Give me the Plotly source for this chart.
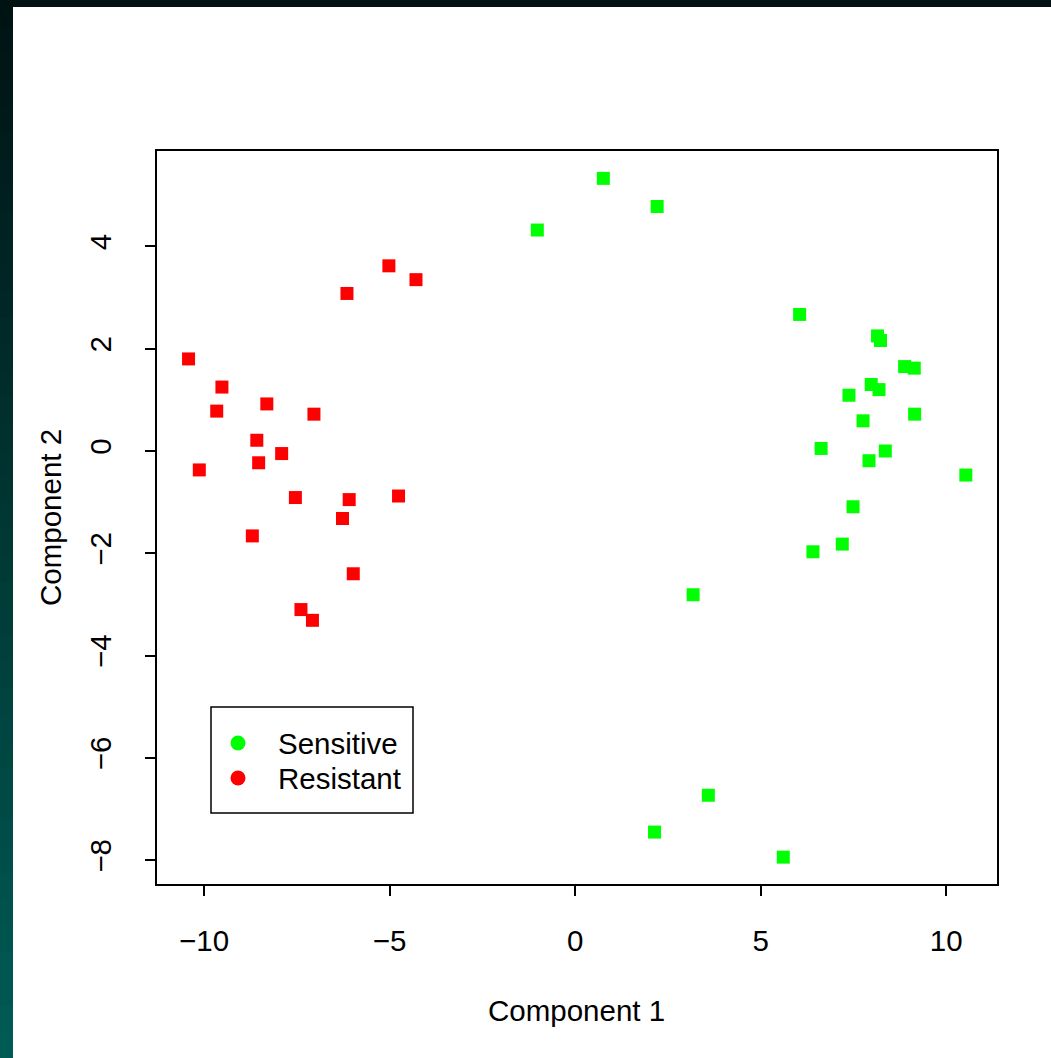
import plotly.graph_objects as go

# Data
resistant_x = [-5.02, -4.29, -6.15, -10.42, -9.52, -9.66, -8.31, -7.04, -8.58, -7.91,
               -8.53, -10.13, -7.54, -6.09, -4.76, -6.27, -8.70, -5.98, -7.39, -7.08]
resistant_y = [3.62, 3.35, 3.08, 1.80, 1.25, 0.78, 0.92, 0.72, 0.21, -0.05,
               -0.23, -0.37, -0.91, -0.95, -0.88, -1.32, -1.66, -2.40, -3.10, -3.31]
sensitive_x = [0.76, 2.21, -1.02, 6.05, 8.15, 8.23, 8.88, 9.14, 7.98, 8.19, 7.38, 9.15,
               7.76, 6.63, 8.36, 7.92, 10.53, 7.49, 7.20, 6.41, 3.18, 3.59, 2.14, 5.61]
sensitive_y = [5.33, 4.78, 4.32, 2.67, 2.25, 2.16, 1.65, 1.62, 1.30, 1.20, 1.09, 0.72,
               0.59, 0.05, 0.00, -0.19, -0.47, -1.09, -1.82, -1.97, -2.81, -6.73, -7.45, -7.94]
x_ticks = [-10, -5, 0, 5, 10]
y_ticks = [-8, -6, -4, -2, 0, 2, 4]
legend_labels = ["Sensitive", "Resistant"]

W, H = 1051, 1058
ML, MR, MT, MB = 157, 54, 151, 174
PW, PH = W - ML - MR, H - MT - MB
FONT = "Liberation Sans, Arial, Helvetica, sans-serif"
FS = 29.5

def px(xp):
    return (xp - ML) / PW

def py(yp):
    return (H - MB - yp) / PH

fig = go.Figure()
fig.add_trace(go.Scatter(x=sensitive_x, y=sensitive_y, mode="markers", name="Sensitive",
                         marker=dict(symbol="square", size=13, color="#00ff00"), showlegend=False))
fig.add_trace(go.Scatter(x=resistant_x, y=resistant_y, mode="markers", name="Resistant",
                         marker=dict(symbol="square", size=13, color="#ff0000"), showlegend=False))

shapes = []
# dark frame: left strip gradient and top strip
nb = 40
top = (0, 18, 18)
bot = (0, 92, 86)
for i in range(nb):
    t = (i + 0.5) / nb
    c = tuple(int(round(top[k] + (bot[k] - top[k]) * t)) for k in range(3))
    y0p = i * H / nb
    y1p = (i + 1) * H / nb + 1
    shapes.append(dict(type="rect", xref="paper", yref="paper", x0=px(0), x1=px(13),
                       y0=py(y1p), y1=py(y0p), fillcolor=f"rgb{c}", line=dict(width=0), layer="below"))
shapes.append(dict(type="rect", xref="paper", yref="paper", x0=px(0), x1=px(W),
                   y0=py(7), y1=py(0), fillcolor="rgb(0,18,18)", line=dict(width=0), layer="below"))

# legend box
shapes.append(dict(type="rect", xref="paper", yref="paper", x0=px(211), x1=px(413),
                   y0=py(813), y1=py(707), line=dict(color="black", width=1.5), fillcolor="white"))
legend_colors = ["#00ff00", "#ff0000"]
legend_ys = [743, 778]
annotations = []
for lab, col, ly in zip(legend_labels, legend_colors, legend_ys):
    shapes.append(dict(type="circle", xref="paper", yref="paper", xsizemode="pixel", ysizemode="pixel",
                       xanchor=px(238), yanchor=py(ly), x0=-7.5, x1=7.5, y0=-7.5, y1=7.5,
                       fillcolor=col, line=dict(width=0)))
    annotations.append(dict(text=lab, xref="paper", yref="paper", x=px(276), y=py(ly),
                            xanchor="left", yanchor="middle", showarrow=False,
                            font=dict(family=FONT, size=FS, color="black")))

annotations.append(dict(text="Component 1", xref="paper", yref="paper", x=px(576), y=py(1010),
                        xanchor="center", yanchor="middle", showarrow=False,
                        font=dict(family=FONT, size=FS, color="black")))
annotations.append(dict(text="Component 2", xref="paper", yref="paper", x=px(50), y=py(518),
                        xanchor="center", yanchor="middle", showarrow=False, textangle=-90,
                        font=dict(family=FONT, size=FS, color="black")))

axis_common = dict(showgrid=False, zeroline=False, showline=True, mirror=True,
                   linecolor="black", linewidth=1.5, ticks="outside", ticklen=10,
                   tickwidth=1.5, tickcolor="black",
                   tickfont=dict(family=FONT, size=FS, color="black"))

fig.update_layout(
    width=W, height=H,
    margin=dict(l=ML, r=MR, t=MT, b=MB, autoexpand=False),
    paper_bgcolor="white", plot_bgcolor="white",
    xaxis=dict(range=[-11.27, 11.37], tickvals=x_ticks, ticklabelstandoff=20,
               ticktext=[str(v).replace("-", "\u2212") for v in x_ticks], **axis_common),
    yaxis=dict(range=[-8.465, 5.865], tickvals=y_ticks, tickangle=-90, ticklabelstandoff=22,
               ticktext=[str(v).replace("-", "\u2212") for v in y_ticks], **axis_common),
    shapes=shapes, annotations=annotations, showlegend=False,
)

fig.write_html("out.html", config={"displayModeBar": False},
               post_script="document.body.style.margin='0';document.body.style.overflow='hidden';")
